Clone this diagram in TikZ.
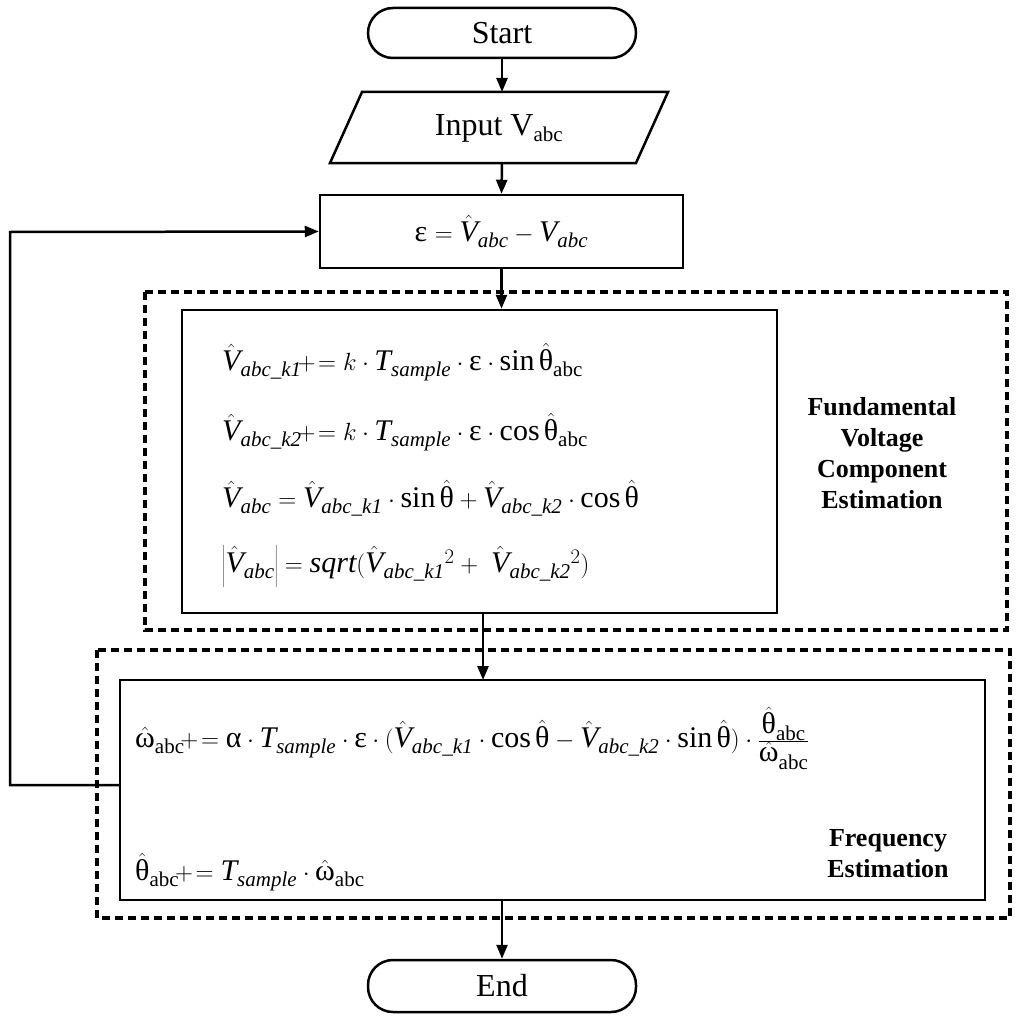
\documentclass[tikz,border=0pt]{standalone}
\usepackage{fontspec}
\setmainfont{Liberation Serif}
\usetikzlibrary{shapes.geometric,arrows.meta}
\newcommand{\Vh}{\hat{\mbox{\itshape V}}}
\newcommand{\thh}{\hat{\mbox{θ}}}
\newcommand{\omh}{\hat{\mbox{ω}}}
\newcommand{\sub}[1]{_{\mbox{\fontsize{21}{24}\selectfont\itshape #1}}}
\newcommand{\subr}[1]{_{\mbox{\fontsize{21}{24}\selectfont #1}}}
\newcommand{\dt}{\mathbin{\cdot}}
\begin{document}
\begin{tikzpicture}[x=1pt,y=-1pt,
  lw/.style={line width=2.5pt},
  arr/.style={lw,-{Triangle[length=14pt,width=11pt]}},
  dbox/.style={line width=3.5pt,dash pattern=on 8pt off 5pt},
  txt/.style={font=\fontsize{30}{36}\selectfont,inner sep=0pt},
  lab/.style={font=\fontsize{26}{31}\selectfont\bfseries,align=center}]
\useasboundingbox (0,0) rectangle (1024,1022);
\node[draw,lw,rounded corners=25pt,minimum width=268pt,minimum height=50pt,font=\fontsize{32}{38}\selectfont] (start) at (502,33) {Start};
\coordinate (p1) at (362,92); \coordinate (p2) at (668,92);
\coordinate (p3) at (636,163); \coordinate (p4) at (330,163);
\draw[lw] (p1)--(p2)--(p3)--(p4)--cycle;
\node[font=\fontsize{32}{38}\selectfont] (inp) at (499,128) {Input V$\subr{abc}$};
\node[draw,lw,minimum width=363pt,minimum height=73pt,txt] (eps) at (501.5,231.5) {ε $=\Vh\sub{abc}-\mbox{\itshape V}\sub{abc}$};
\draw[dbox] (145,292) rectangle (1007,630);
\node[draw,lw,minimum width=595pt,minimum height=303pt] (b1) at (479.5,461.5) {};
\node[lab] (l1) at (882,453) {Fundamental\\Voltage\\Component\\Estimation};
\node[txt,anchor=west] (e1) at (222,362) {$\Vh\sub{abc\_k1}\!+\!=k\dt\mbox{\itshape T}\sub{sample}\dt\mbox{ε}\dt\sin\thh\subr{abc}$};
\node[txt,anchor=west] (e2) at (222,432) {$\Vh\sub{abc\_k2}\!+\!=k\dt\mbox{\itshape T}\sub{sample}\dt\mbox{ε}\dt\cos\thh\subr{abc}$};
\node[txt,anchor=west] (e3) at (222,498) {$\Vh\sub{abc}=\Vh\sub{abc\_k1}\dt\sin\thh+\Vh\sub{abc\_k2}\dt\cos\thh$};
\node[txt,anchor=west] (e4) at (222,566) {$\left|\Vh\sub{abc}\right|=\mbox{\itshape sqrt}(\Vh\sub{abc\_k1}{}^2+\ \Vh\sub{abc\_k2}{}^2)$};
\draw[dbox] (97,650) rectangle (1010,918);
\node[draw,lw,minimum width=865pt,minimum height=220pt] (b2) at (552.5,790) {};
\node[txt,anchor=west] (f1) at (135,738) {$\omh\subr{abc}\!+\!=\mbox{α}\dt\mbox{\itshape T}\sub{sample}\dt\mbox{ε}\dt(\Vh\sub{abc\_k1}\dt\cos\thh-\Vh\sub{abc\_k2}\dt\sin\thh)\dt\frac{\thh\subr{abc}}{\omh\subr{abc}}$};
\node[txt,anchor=west] (f2) at (135,872) {$\thh\subr{abc}\!+\!=\mbox{\itshape T}\sub{sample}\dt\omh\subr{abc}$};
\node[lab] (l2) at (888,854) {Frequency\\Estimation};
\node[draw,lw,rounded corners=25pt,minimum width=268pt,minimum height=52pt,font=\fontsize{32}{38}\selectfont] (end) at (502,986) {End};
\draw[arr] (start.south) -- (502,92);
\draw[arr] (502,163) -- (eps.north);
\draw[arr] (eps.south) -- (b1.north -| eps.south);
\draw[arr] (483,613) -- (483,680);
\draw[arr] (b2.south -| end.north) -- (end.north);
\draw[arr] (b2.west |- 0,785) -- (10,785) -- (10,232) -- (eps.west);
\end{tikzpicture}
\end{document}
